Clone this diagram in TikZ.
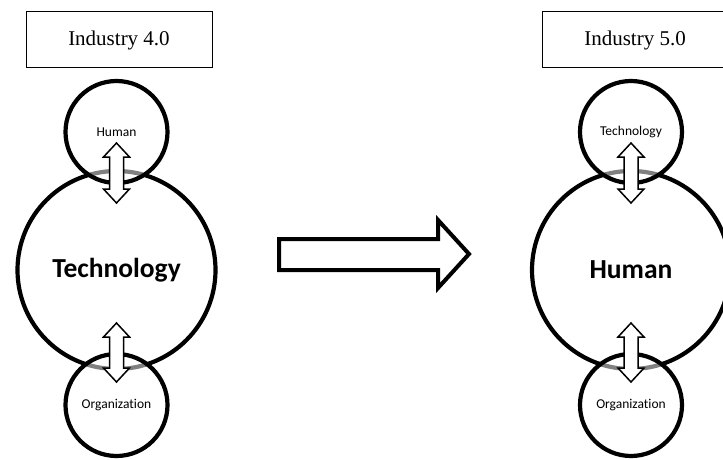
\documentclass[tikz,border=0pt]{standalone}
\usepackage{fontspec}
\setmainfont{Liberation Serif}
\newfontfamily\calib[Ligatures=NoCommon]{Carlito}
\newcommand\dblarr[3]{%
  \draw[dbl] (#1,#2) -- (#1+13,#2+14) -- (#1+7,#2+14) -- (#1+7,#3-14) -- (#1+13,#3-14) -- (#1,#3)
    -- (#1-13,#3-14) -- (#1-7,#3-14) -- (#1-7,#2+14) -- (#1-13,#2+14) -- cycle;}
\begin{document}
\begin{tikzpicture}[x=1pt,y=-1pt,
  bigc/.style={circle, draw, line width=4.2pt, minimum size=198pt, inner sep=0pt, font=\calib\bfseries\fontsize{27.5}{31}\selectfont},
  smallc/.style={circle, draw, line width=4.2pt, minimum size=102pt, inner sep=0pt, fill=white, fill opacity=0.5, text opacity=1, font=\calib\fontsize{13.5}{16}\selectfont},
  titlebox/.style={draw, line width=1pt, minimum width=186pt, minimum height=56pt, inner sep=0pt, font=\fontsize{21}{24}\selectfont},
  dbl/.style={draw, line width=1.5pt, fill=white, line join=miter},
  bigarrow/.style={draw, line width=4pt, fill=white, line join=miter}]
\useasboundingbox (0,0) rectangle (723,460);
\clip (0,0) rectangle (723,460);
% left column
\node[titlebox] (b4) at (119,40) {Industry 4.0};
\node[bigc] (lt) at (116.5,270) {Technology};
\node[smallc] (lh) at (116.5,132) {Human};
\node[smallc] (lo) at (116.5,405) {Organization};
\dblarr{116.5}{143}{203}
\dblarr{116.5}{323}{382}
% right column
\node[titlebox] (b5) at (635,40) {Industry 5.0};
\node[bigc] (rh) at (631,270) {Human};
\node[smallc] (rt) at (631,132) {Technology};
\node[smallc] (ro) at (631,405) {Organization};
\dblarr{631}{143}{203}
\dblarr{631}{323}{382}
% transition arrow
\draw[bigarrow] (279,239) -- (438,239) -- (438,220) -- (469,254) -- (438,288) -- (438,270) -- (279,270) -- cycle;
\end{tikzpicture}
\end{document}
